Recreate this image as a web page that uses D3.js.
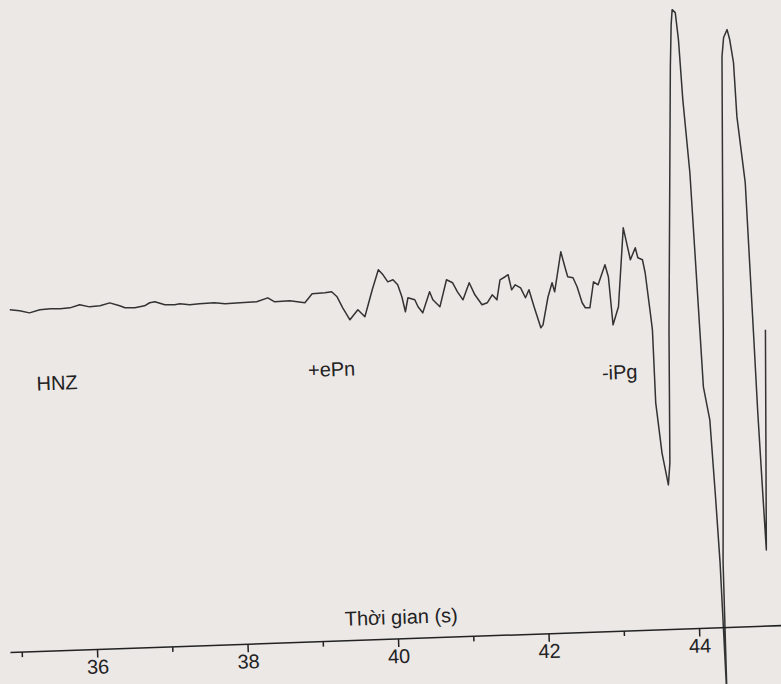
<!DOCTYPE html>
<style>
    body {
        margin: 0;
        background: #ece8e6;
    }

    text {
        font-family: "Liberation Sans", Arial, sans-serif;
        fill: #222;
    }

    .trace {
        fill: none;
        stroke: #333;
        stroke-width: 1.5;
        stroke-linejoin: round;
    }

    .axis line,
    .axis_line {
        fill: none;
        stroke: #222;
        stroke-width: 1.5;
    }
</style>

<head>
    <meta charset="utf-8" />
</head>

<body>
    <svg width="781" height="684"></svg>
</body>
<script src="https://cdnjs.cloudflare.com/ajax/libs/d3/7.8.5/d3.min.js"></script>
<script>

    // HNZ trace, time (s) and amplitude (arbitrary units)
    var times = [35.00, 35.13, 35.26, 35.40, 35.54, 35.67, 35.80, 35.93, 36.06, 36.20,
        36.33, 36.46, 36.53, 36.66, 36.79, 36.86, 36.93, 37.06, 37.19, 37.26,
        37.39, 37.52, 37.72, 37.86, 38.06, 38.28, 38.43, 38.52, 38.72, 38.92,
        39.02, 39.19, 39.28, 39.35, 39.42, 39.51, 39.62, 39.71, 39.82, 39.91,
        39.97, 40.03, 40.10, 40.16, 40.21, 40.25, 40.29, 40.38, 40.42, 40.48,
        40.58, 40.62, 40.71, 40.81, 40.89, 40.95, 41.02, 41.11, 41.18, 41.27,
        41.34, 41.41, 41.47, 41.52, 41.59, 41.63, 41.67, 41.72, 41.79, 41.85,
        41.90, 41.96, 42.04, 42.07, 42.15, 42.21, 42.24, 42.29, 42.34, 42.39,
        42.42, 42.49, 42.54, 42.60, 42.64, 42.70, 42.76, 42.82, 42.92, 42.96,
        43.00, 43.08, 43.18, 43.26, 43.33, 43.36, 43.42, 43.45, 43.50, 43.52,
        43.53, 43.59, 43.66, 43.69, 43.74, 43.88, 43.91, 43.93, 43.97, 44.00,
        44.03, 44.09, 44.15, 44.17, 44.24, 44.28, 44.31, 44.34, 44.35, 44.46,
        44.57, 44.60, 44.65, 44.68, 44.72, 44.74, 44.82, 44.86, 44.88, 44.91,
        44.93, 45.02];
    var amps = [0.5, -0.8, -3.2, -0.5, 0.1, -0.2, 0.4, 3.1, 0.7, 1.4,
        4, 0.7, -1.5, -1.8, -0.2, 2.7, 3.5, 0.1, -0.2, 0.6,
        -0.7, -0.1, 0.4, -1, -0.5, -0.1, 3.5, -0.7, -0.2, -2.7,
        6, 6.5, 7.3, 2.1, -9.1, -21.3, -11.6, -18.8, 7.9, 27.7,
        22.5, 15.3, 17.2, 12, -0.1, -15.2, -1.3, -3.6, -10.7, -16.9,
        3.9, -4.2, -11.5, 15.3, 12.1, 2.9, -5.3, 11.5, -0.7, -10.9,
        -9.1, -1.3, -6.5, 13.4, 16.3, 18.2, 3, 7.9, 4.7, -5.4,
        2.5, -14.7, -36, -33.1, -5.2, 8.6, -0.5, 19.4, 39.3, 23.2,
        14.1, 12.9, 3.8, -12.4, -17.5, -17.7, 8.2, 5, 24.8, 12.7,
        -35.5, -17.7, 61.1, 28.9, 40.7, 30.6, 28.5, 15.4, -24.8, -41.9,
        -115, -165.2, -197.4, -175.5, -42.5, 220.5, 262.5, 277.4, 274.3, 247,
        187.1, 113.8, -46.5, -100.6, -133.9, -211.1, -277.2, -415, -277.3, -44.3,
        228.7, 247.7, 255.5, 245.5, 222.3, 168.2, 101.9, -48.4, -128.5, -212.7,
        -265.8, -45.8];

    var channel = "HNZ";
    var channelTime = 35.32;
    var phaseNames = ["+ePn", "-iPg"];
    var phaseTimes = [38.93, 42.83];

    var majorTicks = [36, 38, 40, 42, 44];
    var minorTicks = [35, 37, 39, 41, 43];
    var axisTitle = "Thời gian (s)";

    var svg = d3.select("svg");
    var axisY = 639;

    svg.append("rect")
        .attr("width", 781)
        .attr("height", 684)
        .style("fill", "#ece8e6");

    // the scanned figure sits a little crooked on the page
    var g = svg.append("g")
        .attr("transform", "rotate(-2,398,639)");

    var x = d3.scaleLinear()
        .domain([35, 45])
        .range([21.5, 774.5]);

    var y = d3.scaleLinear()
        .domain([-400, 300])
        .range([697, -3]);

    var points = times.map(function (t, i) { return [t, amps[i]]; });

    var line = d3.line()
        .x(function (d) { return x(d[0]); })
        .y(function (d) { return y(d[1]); });

    g.append("path")
        .datum(points)
        .attr("class", "trace")
        .attr("d", line);

    //labels
    g.append("text")
        .attr("x", x(channelTime))
        .attr("y", y(-81))
        .style("font-size", "20px")
        .text(channel);

    g.selectAll(".phase")
        .data(phaseNames)
        .enter().append("text")
        .attr("class", "phase")
        .attr("x", function (d, i) { return x(phaseTimes[i]); })
        .attr("y", function (d, i) { return i == 0 ? y(-77) : y(-90); })
        .style("font-size", "20px")
        .text(function (d) { return d; });

    //x axis line
    g.append("line")
        .attr("class", "axis_line")
        .attr("x1", x(34.85))
        .attr("x2", x(45.6))
        .attr("y1", axisY)
        .attr("y2", axisY);

    var xAxis = d3.axisBottom(x)
        .tickValues(majorTicks)
        .tickSize(8)
        .tickPadding(2)
        .tickFormat(d3.format("d"));

    var ax = g.append("g")
        .attr("class", "axis")
        .attr("transform", "translate(0," + axisY + ")")
        .call(xAxis);
    ax.select(".domain").remove();
    ax.selectAll("text")
        .style("font-size", "20px")
        .style("fill", "#222");

    var minorAxis = d3.axisBottom(x)
        .tickValues(minorTicks)
        .tickSize(5)
        .tickFormat("");

    var mx = g.append("g")
        .attr("class", "axis")
        .attr("transform", "translate(0," + axisY + ")")
        .call(minorAxis);
    mx.select(".domain").remove();

    // x axis label
    g.append("text")
        .attr("x", x(40) + 4)
        .attr("y", axisY - 15)
        .style("text-anchor", "middle")
        .style("font-size", "20px")
        .text(axisTitle);

</script>
